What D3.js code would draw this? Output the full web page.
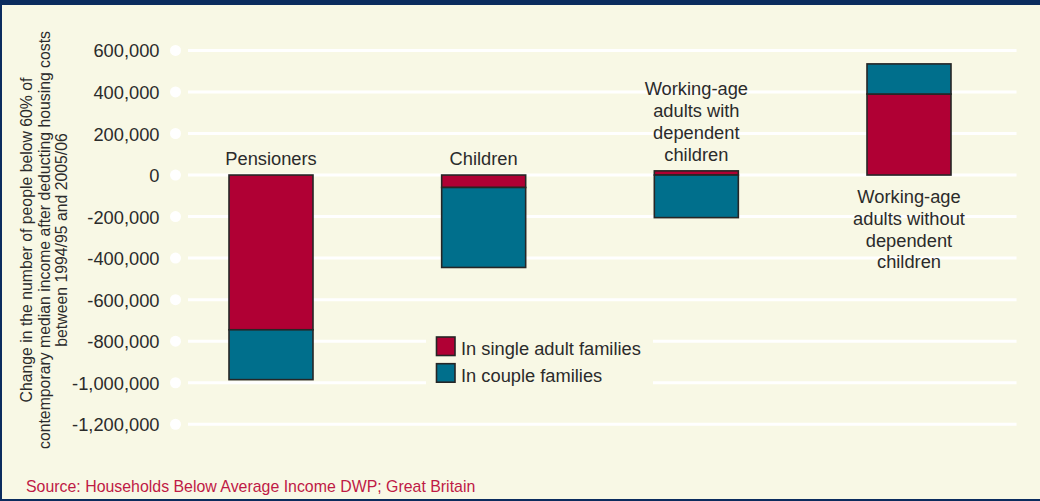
<!DOCTYPE html>
<html>
<head>
<meta charset="utf-8">
<script src="https://cdn.jsdelivr.net/npm/d3@7"></script>
<style>
  html, body { margin: 0; padding: 0; background: #f8f8e5; }
  svg { display: block; }
  text { font-family: "Liberation Sans", Arial, Helvetica, sans-serif; }
</style>
</head>
<body>
<script>
// ---- Data ----
const categories = ["Pensioners", "Children", "Working-age adults with dependent children", "Working-age adults without dependent children"];
const categoryLabels = [
  ["Pensioners"],
  ["Children"],
  ["Working-age", "adults with", "dependent", "children"],
  ["Working-age", "adults without", "dependent", "children"]
];
const seriesNames = ["In single adult families", "In couple families"];
const singleAdult = [-745000, -60000, 20000, 390000];
const couple = [-240000, -385000, -205000, 145000];
const yTicks = [600000, 400000, 200000, 0, -200000, -400000, -600000, -800000, -1000000, -1200000];
const yTitleLines = [
  "Change in the number of people below 60% of",
  "contemporary median income after deducting housing costs",
  "between 1994/95 and 2005/06"
];
const sourceText = "Source: Households Below Average Income DWP; Great Britain";

// ---- Layout ----
const W = 1040, H = 501;
const colors = ["#b00034", "#006f8c"];
const textColor = "#2b2b2b";
const FS = "18.3px";

const svg = d3.select("body").append("svg").attr("width", W).attr("height", H);

// frame
svg.append("rect").attr("x", 0).attr("y", 0).attr("width", W).attr("height", H).attr("fill", "#0b2c5e");
svg.append("rect").attr("x", 2).attr("y", 5).attr("width", W - 2).attr("height", H - 7).attr("fill", "#f8f8e5");

const y = d3.scaleLinear().domain([-1200000, 600000]).range([424.3, 50.4]);
const x = d3.scalePoint().domain(categories).range([271, 909]);
const barW = 84;

// gridlines & dots
const grid = svg.append("g");
grid.selectAll("line").data(yTicks).join("line")
  .attr("x1", 188).attr("x2", 1016.5)
  .attr("y1", d => y(d)).attr("y2", d => y(d))
  .attr("stroke", "#ffffff").attr("stroke-width", 3);
grid.selectAll("circle").data(yTicks).join("circle")
  .attr("cx", 175.5).attr("cy", d => y(d)).attr("r", 5.5).attr("fill", "#ffffff");

// y axis labels via d3 axis
const loc = d3.formatLocale({ decimal: ".", thousands: ",", grouping: [3], currency: ["", ""], minus: "-" });
const axis = d3.axisLeft(y).tickValues(yTicks).tickFormat(loc.format(",")).tickSize(0).tickPadding(0);
const ag = svg.append("g").attr("transform", "translate(159.5,0)").call(axis);
ag.select(".domain").remove();
ag.selectAll("text")
  .attr("fill", textColor)
  .style("font-size", FS)
  .style("font-family", "'Liberation Sans', Arial, sans-serif")
  .attr("dy", "0.36em");

// y title
const yt = svg.append("text")
  .attr("transform", "translate(0,240) rotate(-90)")
  .attr("text-anchor", "middle")
  .attr("fill", textColor)
  .style("font-size", "15.8px");
yTitleLines.forEach((l, i) => {
  yt.append("tspan").attr("x", 0).attr("y", 32 + i * 17.5).text(l);
});

// stacked data
const rows = categories.map((c, i) => ({ cat: c, single: singleAdult[i], couple: couple[i] }));
const stack = d3.stack().keys(["single", "couple"]).offset(d3.stackOffsetDiverging);
const stacked = stack(rows);

const bars = svg.append("g");
stacked.forEach((s, si) => {
  bars.append("g").selectAll("rect").data(s).join("rect")
    .attr("x", d => x(d.data.cat) - barW / 2)
    .attr("width", barW)
    .attr("y", d => y(Math.max(d[0], d[1])))
    .attr("height", d => Math.abs(y(d[0]) - y(d[1])))
    .attr("fill", colors[si])
    .attr("stroke", "#262626")
    .attr("stroke-width", 1.6);
});

// category labels
const lab = svg.append("g").attr("fill", textColor).style("font-size", FS);
rows.forEach((r, i) => {
  const lines = categoryLabels[i];
  const posTop = (r.single > 0 ? r.single : 0) + (r.couple > 0 ? r.couple : 0);
  const allPositive = r.single >= 0 && r.couple >= 0;
  const t = lab.append("text").attr("text-anchor", "middle");
  const cx = x(r.cat);
  if (allPositive) {
    const first = y(0) + 28;
    lines.forEach((l, k) => t.append("tspan").attr("x", cx).attr("y", first + k * 21.8).text(l));
  } else {
    const last = y(posTop) - 10;
    lines.forEach((l, k) => t.append("tspan").attr("x", cx).attr("y", last - (lines.length - 1 - k) * 21.8).text(l));
  }
});

// legend
const lg = svg.append("g");
lg.append("rect").attr("x", 426).attr("y", 331).attr("width", 227).attr("height", 60).attr("fill", "#f8f8e5");
seriesNames.forEach((n, i) => {
  lg.append("rect").attr("x", 436.5).attr("y", 337 + i * 26.7).attr("width", 18.5).attr("height", 18.5)
    .attr("fill", colors[i]).attr("stroke", "#262626").attr("stroke-width", 1.6);
  lg.append("text").attr("x", 461).attr("y", 355 + i * 26.7).attr("fill", textColor)
    .style("font-size", FS).text(n);
});

// source
svg.append("text").attr("x", 26).attr("y", 491.5).attr("fill", "#bf1a45")
  .style("font-size", "15.9px").text(sourceText);
</script>
</body>
</html>
